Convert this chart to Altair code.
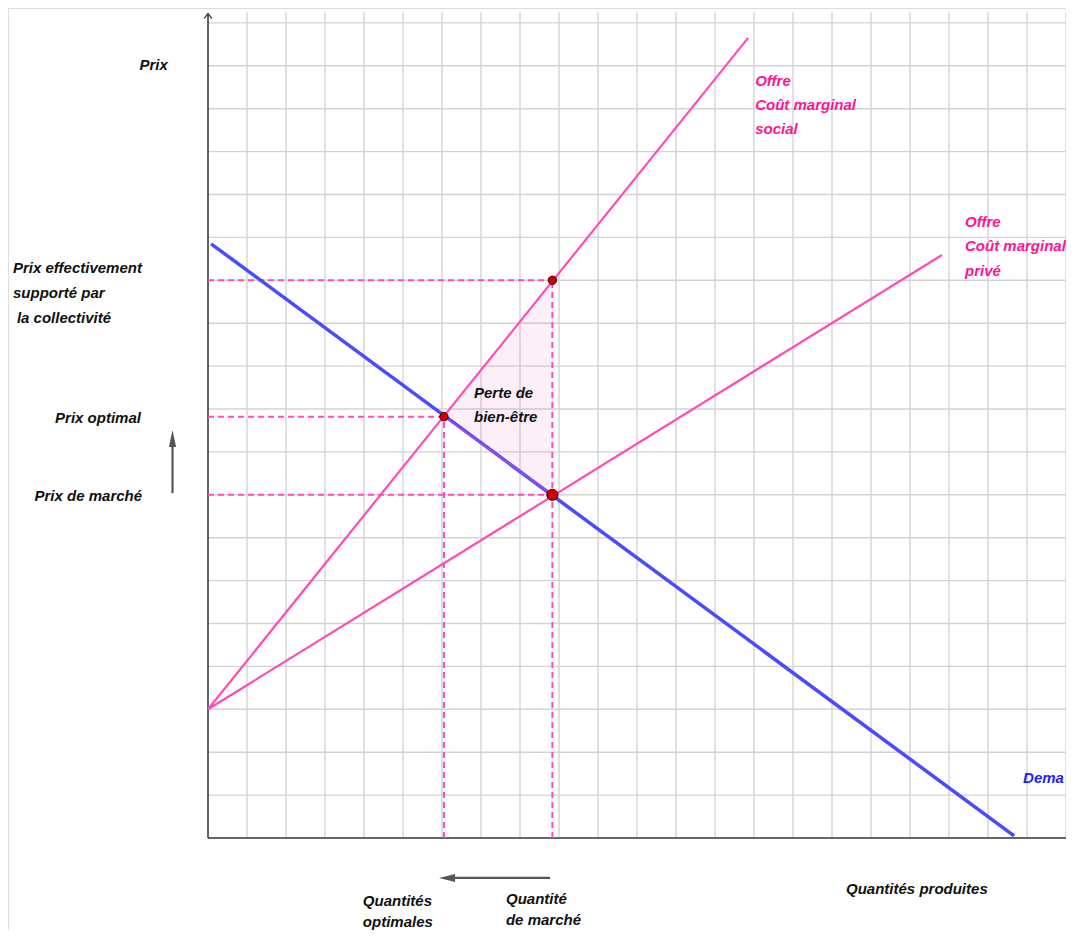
import altair as alt
import pandas as pd

# ---------------- values (grid units) ----------------
grid_x = list(range(1, 23))          # vertical grid lines
grid_y = list(range(1, 20))          # horizontal grid lines
grid_top = 19.25
grid_right = 22.4

demand_q = [0.08, 20.67]
demand_p = [13.85, 0.05]
cm_prive_q = [0.0, 18.82]
cm_prive_p = [3.0, 13.59]
cm_social_q = [0.0, 13.85]
cm_social_p = [3.0, 18.65]

q_opt, p_opt = 6.05, 9.82
q_mkt, p_mkt = 8.83, 8.0
p_social = 13.0

point_q = [q_mkt, q_opt, q_mkt]
point_p = [p_social, p_opt, p_mkt]
point_size = [70, 70, 125]

hdash_p = [p_social, p_opt, p_mkt]
hdash_q = [q_mkt, q_opt, q_mkt]
vdash_q = [q_opt, q_mkt]
vdash_p = [p_opt, p_social]

# labels
left_txt = ["Prix effectivement", "supporté par", "la collectivité",
            "Quantités", "optimales", "Quantité", "de marché",
            "Quantités produites", "Perte de", "bien-être"]
left_x = [-5.0, -5.0, -4.9, 3.97, 3.97, 7.64, 7.64, 16.36, 6.82, 6.82]
left_y = [13.29, 12.70, 12.12, -1.47, -1.96, -1.42, -1.91, -1.19, 10.37, 9.81]

right_txt = ["Prix", "Prix optimal", "Prix de marché"]
right_x = [-1.03, -1.72, -1.69]
right_y = [18.02, 9.79, 7.97]

pink_txt = ["Offre", "Coût marginal", "social", "Offre", "Coût marginal", "privé"]
pink_x = [14.03, 14.03, 14.03, 19.41, 19.41, 19.41]
pink_y = [17.65, 17.09, 16.53, 14.36, 13.80, 13.22]

blue_txt = ["Dema"]
blue_x = [20.9]
blue_y = [1.40]

# grey arrows
up_shaft_x, up_shaft_y0, up_shaft_y1, up_head_y = -0.91, 8.04, 9.2, 9.31
left_shaft_y, left_shaft_x0, left_shaft_x1, left_head_x = -0.93, 8.77, 6.2, 6.13

# ---------------- layout ----------------
W, H = 1058, 922
OX, OY = 200, 830
UX, UY = 39.0, 42.9
xdom = [-OX / UX, (W - OX) / UX]
ydom = [-(H - OY) / UY, OY / UY]
xs = alt.Scale(domain=xdom, nice=False, zero=False)
ys = alt.Scale(domain=ydom, nice=False, zero=False)

PINK_LINE = "#ff4db8"
PINK_TXT = "#ff1493"
BLUE = "#4a4aff"
FONT = "Liberation Sans"


def X(f="x"):
    return alt.X(f, type="quantitative", scale=xs, axis=None)


def Y(f="y"):
    return alt.Y(f, type="quantitative", scale=ys, axis=None)


vgrid = alt.Chart(pd.DataFrame({"x": grid_x, "y": 0.0, "y2": grid_top})).mark_rule(
    color="#d3d3d3", strokeWidth=1.4).encode(x=X(), y=Y(), y2="y2")
hgrid = alt.Chart(pd.DataFrame({"y": grid_y, "x": 0.0, "x2": grid_right})).mark_rule(
    color="#d3d3d3", strokeWidth=1.4).encode(x=X(), x2="x2", y=Y())

tri = alt.Chart(pd.DataFrame({"x": [q_opt, q_mkt], "y": [p_opt, p_social],
                              "y2": [p_opt, p_mkt]})).mark_area(
    color="#dd2299", opacity=0.07).encode(x=X(), y=Y(), y2="y2")

x_axis = alt.Chart(pd.DataFrame({"x": [0.0], "x2": [22.15], "y": [0.0]})).mark_rule(
    color="#666666", strokeWidth=2).encode(x=X(), x2="x2", y=Y())
y_axis = alt.Chart(pd.DataFrame({"x": [0.0], "y": [0.0], "y2": [19.22]})).mark_rule(
    color="#222222", strokeWidth=1.4).encode(x=X(), y=Y(), y2="y2")

arrow_heads = alt.Chart(pd.DataFrame({
    "x": [0.0, 0.0, 22.15, 22.15],
    "x2": [-0.1, 0.1, 22.02, 22.02],
    "y": [19.22, 19.22, 0.0, 0.0],
    "y2": [19.1, 19.1, 0.09, -0.09]})).mark_rule(
    color="#333333", strokeWidth=1.2).encode(x=X(), x2="x2", y=Y(), y2="y2")

hdash = alt.Chart(pd.DataFrame({"y": hdash_p, "x": 0.0, "x2": hdash_q})).mark_rule(
    color=PINK_LINE, strokeWidth=2, strokeDash=[6, 4]).encode(x=X(), x2="x2", y=Y())
vdash = alt.Chart(pd.DataFrame({"x": vdash_q, "y": 0.0, "y2": vdash_p})).mark_rule(
    color=PINK_LINE, strokeWidth=2, strokeDash=[6, 4]).encode(x=X(), y=Y(), y2="y2")

social = alt.Chart(pd.DataFrame({"x": cm_social_q, "y": cm_social_p})).mark_line(
    color=PINK_LINE, strokeWidth=2.2).encode(x=X(), y=Y())
prive = alt.Chart(pd.DataFrame({"x": cm_prive_q, "y": cm_prive_p})).mark_line(
    color=PINK_LINE, strokeWidth=2.2).encode(x=X(), y=Y())
demand = alt.Chart(pd.DataFrame({"x": demand_q, "y": demand_p})).mark_line(
    color=BLUE, strokeWidth=3.5).encode(x=X(), y=Y())
tri_edge = alt.Chart(pd.DataFrame({"x": [q_opt, q_mkt], "y": [p_opt, p_mkt]})).mark_line(
    color=PINK_LINE, strokeWidth=2, opacity=0.45).encode(x=X(), y=Y())

points = alt.Chart(pd.DataFrame({"x": point_q, "y": point_p, "s": point_size})).mark_point(
    filled=True, shape="circle", color="#cc0000", stroke="#3a0000", strokeWidth=1,
    opacity=1).encode(x=X(), y=Y(),
                      size=alt.Size("s:Q", scale=None, legend=None))


def texts(txt, x, y, align, color):
    return alt.Chart(pd.DataFrame({"t": txt, "x": x, "y": y})).mark_text(
        align=align, baseline="middle", font=FONT, fontSize=15, fontWeight="bold",
        fontStyle="italic", color=color).encode(x=X(), y=Y(), text="t:N")


t_left = texts(left_txt, left_x, left_y, "left", "#111111")
t_right = texts(right_txt, right_x, right_y, "right", "#111111")
t_pink = texts(pink_txt, pink_x, pink_y, "left", PINK_TXT)
t_blue = texts(blue_txt, blue_x, blue_y, "left", "#2222ff")

shafts = alt.Chart(pd.DataFrame({
    "x": [up_shaft_x, left_shaft_x0], "x2": [up_shaft_x, left_shaft_x1],
    "y": [up_shaft_y0, left_shaft_y], "y2": [up_shaft_y1, left_shaft_y]})).mark_rule(
    color="#555555", strokeWidth=2.2).encode(x=X(), x2="x2", y=Y(), y2="y2")
head_up = alt.Chart(pd.DataFrame({"x": [up_shaft_x], "y": [up_head_y]})).mark_point(
    shape="M0,-1L0.42,1L-0.42,1Z", size=289, filled=True, color="#555555",
    opacity=1).encode(x=X(), y=Y())
head_left = alt.Chart(pd.DataFrame({"x": [left_head_x], "y": [left_shaft_y]})).mark_point(
    shape="M-1,0L1,-0.5L1,0.5Z", size=256, filled=True, color="#555555",
    opacity=1).encode(x=X(), y=Y())

chart = alt.layer(
    vgrid, hgrid, tri, x_axis, y_axis, arrow_heads, hdash, vdash, prive, social,
    demand, tri_edge, points, t_left, t_right, t_pink, t_blue, shafts, head_up,
    head_left
).properties(
    width=W, height=H, autosize=alt.AutoSizeParams(type="none"), padding=0
).configure_view(stroke=None).configure(background="white")

chart.save("out.html", embed_options={"renderer": "svg", "actions": False})
